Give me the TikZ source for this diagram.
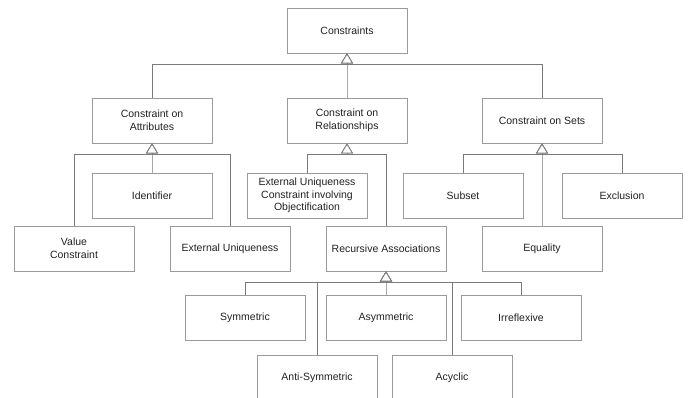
\documentclass[tikz,border=0pt]{standalone}
\usepackage{fontspec}
\setmainfont{Liberation Sans}
\usetikzlibrary{arrows.meta}

\definecolor{boxgray}{HTML}{9A9A9A}
\definecolor{linegray}{HTML}{7A7A7A}
\definecolor{textgray}{HTML}{222222}

\tikzset{
  cls/.style={rectangle, draw=boxgray, line width=0.8pt, fill=white,
    minimum width=120pt, minimum height=45pt, inner sep=0pt, align=center,
    text=textgray, font=\fontsize{10.5}{12.7}\selectfont},
  gen/.style={draw=linegray, line width=0.8pt,
    -{Triangle[open, width=12pt, length=10pt, fill=white]}},
}

\begin{document}
\begin{tikzpicture}[x=1pt, y=-1pt]
    \useasboundingbox (0,0) rectangle (691,398);
    \clip (0,0) rectangle (691,398);

    % Nodes
    \node[cls] at (347, 30.5) (cons) {Constraints};

    \node[cls] at (152, 120.5) (attr) {Constraint on\\Attributes};
    \node[cls] at (347, 120.5) (rel) {Constraint on\\Relationships};
    \node[cls] at (542, 120.5) (sets) {Constraint on Sets};

    \node[cls] at (152, 195.5) (ident) {Identifier};
    \node[cls] at (307, 195.5) (euco) {External Uniqueness\\Constraint involving\\Objectification};
    \node[cls] at (463, 195.5) (subset) {Subset};
    \node[cls] at (622, 195.5) (excl) {Exclusion};

    \node[cls] at (74, 248.5) (value) {Value\\Constraint};
    \node[cls] at (230, 248.5) (extu) {External Uniqueness};
    \node[cls] at (386, 248.5) (recur) {Recursive Associations};
    \node[cls] at (542, 248.5) (equal) {Equality};

    \node[cls] at (245, 318) (sym) {Symmetric};
    \node[cls] at (386, 318) (asym) {Asymmetric};
    \node[cls] at (521, 318) (irr) {Irreflexive};

    \node[cls] at (317, 377.5) (anti) {Anti-Symmetric};
    \node[cls] at (452, 377.5) (acyc) {Acyclic};

    % Bus points below each parent
    \coordinate (consbus) at ([yshift=-11pt]cons.south);
    \coordinate (attrbus) at ([yshift=-11pt]attr.south);
    \coordinate (relbus) at ([yshift=-11pt]rel.south);
    \coordinate (setsbus) at ([yshift=-11pt]sets.south);
    \coordinate (recurbus) at ([yshift=-11pt]recur.south);

    \draw[gen] (attr.north) |- (consbus) -- (cons.south);
    \draw[gen] (rel.north) |- (consbus) -- (cons.south);
    \draw[gen] (sets.north) |- (consbus) -- (cons.south);

    \draw[gen] (value.north) |- (attrbus) -- (attr.south);
    \draw[gen] (ident.north) |- (attrbus) -- (attr.south);
    \draw[gen] (extu.north) |- (attrbus) -- (attr.south);

    \draw[gen] (euco.north) |- (relbus) -- (rel.south);
    \draw[gen] (recur.north) |- (relbus) -- (rel.south);

    \draw[gen] (subset.north) |- (setsbus) -- (sets.south);
    \draw[gen] (equal.north) |- (setsbus) -- (sets.south);
    \draw[gen] (excl.north) |- (setsbus) -- (sets.south);

    \draw[gen] (sym.north) |- (recurbus) -- (recur.south);
    \draw[gen] (anti.north) |- (recurbus) -- (recur.south);
    \draw[gen] (asym.north) |- (recurbus) -- (recur.south);
    \draw[gen] (acyc.north) |- (recurbus) -- (recur.south);
    \draw[gen] (irr.north) |- (recurbus) -- (recur.south);
\end{tikzpicture}
\end{document}
